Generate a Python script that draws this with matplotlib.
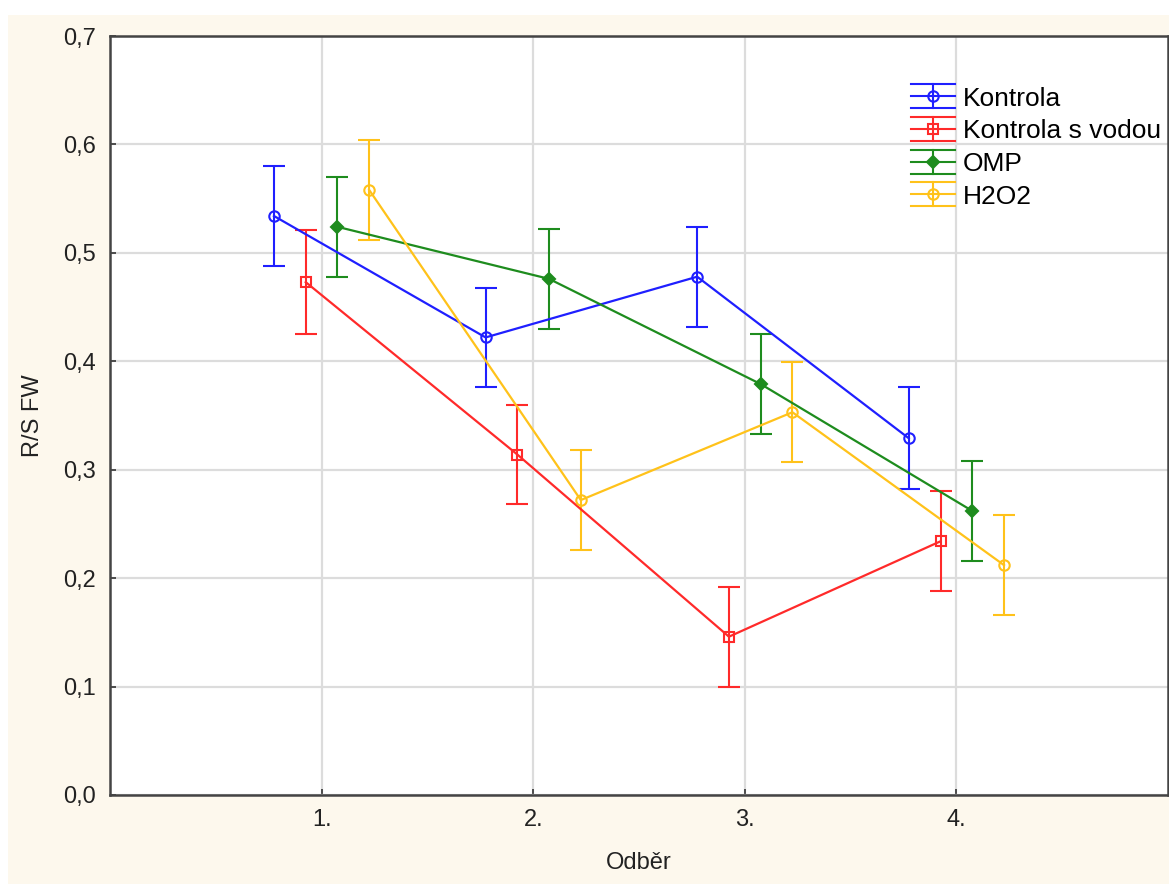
import numpy as np
import matplotlib.pyplot as plt
from matplotlib.patches import Rectangle
from matplotlib.lines import Line2D
from matplotlib.legend_handler import HandlerBase

# sampling rounds and group means / error half-widths
odber = [1, 2, 3, 4]
tick_labels = ["1.", "2.", "3.", "4."]

kontrola = [0.534, 0.422, 0.478, 0.329]
kontrola_err = [0.046, 0.046, 0.046, 0.047]

kontrola_voda = [0.473, 0.314, 0.146, 0.234]
kontrola_voda_err = [0.048, 0.046, 0.046, 0.046]

omp = [0.524, 0.476, 0.379, 0.262]
omp_err = [0.046, 0.046, 0.046, 0.046]

h2o2 = [0.558, 0.272, 0.353, 0.212]
h2o2_err = [0.046, 0.046, 0.046, 0.046]

groups = [
    ("Kontrola", kontrola, kontrola_err, "#1f1fff", "o", "none", -0.225),
    ("Kontrola s vodou", kontrola_voda, kontrola_voda_err, "#ff2a2a", "s", "none", -0.075),
    ("OMP", omp, omp_err, "#1e8c1e", "D", "#1e8c1e", 0.075),
    ("H2O2", h2o2, h2o2_err, "#ffc21a", "o", "none", 0.225),
]


# legend key: full-width caps above and below the marker line
class WideCapHandler(HandlerBase):
    def create_artists(self, legend, orig, xd, yd, w, h, fontsize, trans):
        ln = orig.lines[0]
        col = ln.get_color()
        yc = yd + h / 2
        d = 0.65 * h
        kw = dict(color=col, lw=1.5, transform=trans)
        arts = [
            Line2D([xd, xd + w], [yc, yc], **kw),
            Line2D([xd, xd + w], [yc + d, yc + d], **kw),
            Line2D([xd, xd + w], [yc - d, yc - d], **kw),
            Line2D([xd + w / 2, xd + w / 2], [yc - d, yc + d], **kw),
            Line2D([xd + w / 2], [yc], marker=ln.get_marker(), markersize=ln.get_markersize(),
                   markerfacecolor=ln.get_markerfacecolor(), markeredgecolor=col,
                   markeredgewidth=1.5, linestyle="none", transform=trans),
        ]
        return arts


plt.rcParams["font.family"] = ["Liberation Sans", "DejaVu Sans"]

fig = plt.figure(figsize=(11.69, 8.84), dpi=100)
fig.patch.set_facecolor("white")
# cream panel behind the plot area
fig.patches.append(Rectangle((8 / 1169, 0), 1, 1 - 15 / 884, transform=fig.transFigure,
                             facecolor="#fdf8ed", edgecolor="none", zorder=-5))

ax = fig.add_axes([110 / 1169, 89 / 884, 1058 / 1169, 759 / 884])
ax.set_facecolor("white")

x = np.array(odber, dtype=float)
handles = []
for name, vals, errs, col, mk, mfc, off in groups:
    ms = 6 if mk == "D" else 7.5
    eb = ax.errorbar(x + off, vals, yerr=errs, color=col, marker=mk, markersize=ms,
                     markerfacecolor=mfc, markeredgecolor=col, markeredgewidth=1.5,
                     linewidth=1.6, elinewidth=1.5, capsize=8, capthick=1.5,
                     label=name, zorder=3)
    handles.append(eb)

ax.set_xlim(0, 5)
ax.set_ylim(0, 0.7)
ax.set_xticks(odber)
ax.set_xticklabels(tick_labels)
yt = np.arange(0, 0.71, 0.1)
ax.set_yticks(yt)
ax.set_yticklabels([f"{v:.1f}".replace(".", ",") for v in yt])

ax.grid(True, color="#dcdcdc", linewidth=1.6, zorder=0)
ax.set_axisbelow(True)
for s in ax.spines.values():
    s.set_color("#444444")
    s.set_linewidth(1.8)
ax.tick_params(direction="in", length=4, width=1.2, color="#333333",
               labelsize=17, labelcolor="#222222", pad=10)

ax.set_xlabel("Odběr", fontsize=17, color="#222222", labelpad=15)
ax.set_ylabel("R/S FW", fontsize=17, color="#222222", labelpad=14)

leg = ax.legend(handles=handles, labels=[g[0] for g in groups],
                handler_map={type(handles[0]): WideCapHandler()},
                loc="upper left", bbox_to_anchor=(900 / 1169, 1 - 76 / 884),
                bbox_transform=fig.transFigure, frameon=False, fontsize=19,
                labelspacing=0.33, handlelength=1.7, handletextpad=0.28,
                borderaxespad=0, borderpad=0.4)

fig.savefig("out.png", dpi=100, facecolor=fig.get_facecolor())
